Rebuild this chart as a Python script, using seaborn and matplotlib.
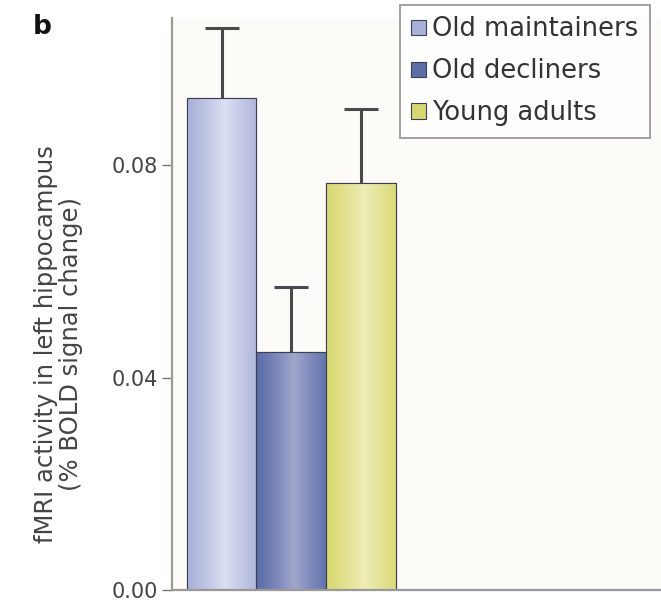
import numpy as np
import pandas as pd
import matplotlib
matplotlib.use("Agg")
import matplotlib.pyplot as plt
from matplotlib.colors import to_rgb
from matplotlib.patches import Patch
import seaborn as sns

# --- Data ---
groups = ["Old maintainers", "Old decliners", "Young adults"]
means = [0.0925, 0.0449, 0.0766]
sems = [0.0132, 0.0122, 0.0140]
colors = ["#aab1d8", "#5b6ea8", "#d8d872"]
highlights = ["#dce0f2", "#a2a6cd", "#eeedb8"]
yticks = [0.00, 0.04, 0.08]

df = pd.DataFrame({"group": groups, "mean": means})

sns.set_style("white")
plt.rcParams["font.family"] = ["DejaVu Sans"]

fig = plt.figure(figsize=(6.61, 6.05), dpi=100)
ax = fig.add_axes([0.2602, 0.024, 0.7398, 0.946])
ax.set_facecolor("#fdfbf7")

sns.barplot(data=df, x="group", y="mean", hue="group", palette=colors,
            order=groups, hue_order=groups, errorbar=None, width=1.0,
            edgecolor="#3a3f55", linewidth=0.8, legend=False, ax=ax)

# cylinder-like shading across each bar, as in the printed figure
u = np.linspace(0, 1, 128)
prof = np.clip(1 - np.abs(u - 0.55) / 0.55, 0, 1) ** 1.2
for patch, c0, c1 in zip(ax.patches, colors, highlights):
    x0, y0 = patch.get_x(), patch.get_y()
    w, h = patch.get_width(), patch.get_height()
    a, b = np.array(to_rgb(c0)), np.array(to_rgb(c1))
    row = a[None, :] * (1 - prof[:, None]) + b[None, :] * prof[:, None]
    img = np.repeat(row[None, :, :], 2, axis=0)
    im = ax.imshow(img, extent=[x0, x0 + w, y0, y0 + h], aspect="auto",
                   interpolation="bilinear", zorder=patch.get_zorder() + 0.1)
    im.set_clip_path(patch)
    # redraw the outline on top
    ax.add_patch(plt.Rectangle((x0, y0), w, h, fill=False, edgecolor="#3a3f55",
                               linewidth=0.8, zorder=patch.get_zorder() + 0.2))

# upper-only error bars
xs = np.arange(len(groups))
_, caps, _ = ax.errorbar(xs, means, yerr=[np.zeros(len(sems)), sems], fmt="none",
                         ecolor="#4a4a4a", elinewidth=2.2, capsize=12, capthick=2.2, zorder=5)
caps[0].set_visible(False)

ax.set_xlim(-0.71, 6.3)
ax.set_ylim(0, 0.1076)
ax.set_yticks(yticks)
ax.set_yticklabels([f"{t:.2f}" for t in yticks], fontsize=15, color="#444444")
ax.set_xticks([])
ax.set_xlabel("")
ax.set_ylabel("fMRI activity in left hippocampus\n(% BOLD signal change)",
              fontsize=17.5, color="#444444", linespacing=1.05)
ax.yaxis.set_label_coords(-0.183, 0.43)
ax.tick_params(axis="y", direction="out", length=7, width=1, color="#777777", left=True, pad=3)

for side in ["top", "right"]:
    ax.spines[side].set_visible(False)
for side in ["left", "bottom"]:
    ax.spines[side].set_color("#999999")
    ax.spines[side].set_linewidth(1.6)

handles = [Patch(facecolor=c, edgecolor="#3a3f55", linewidth=0.8) for c in colors]
leg = fig.legend(handles, groups, loc="upper right", bbox_to_anchor=(0.983, 0.992),
                 fontsize=18.5, frameon=True, fancybox=False, edgecolor="#888888",
                 handlelength=0.55, handleheight=0.55, handletextpad=0.25,
                 labelspacing=0.62, borderpad=0.45, borderaxespad=0.0, labelcolor="#333333")
leg.get_frame().set_linewidth(1.4)

fig.text(0.05, 0.955, "b", fontsize=19, fontweight="bold", color="#111111",
         ha="left", va="center")

fig.savefig("out.png", dpi=100)
